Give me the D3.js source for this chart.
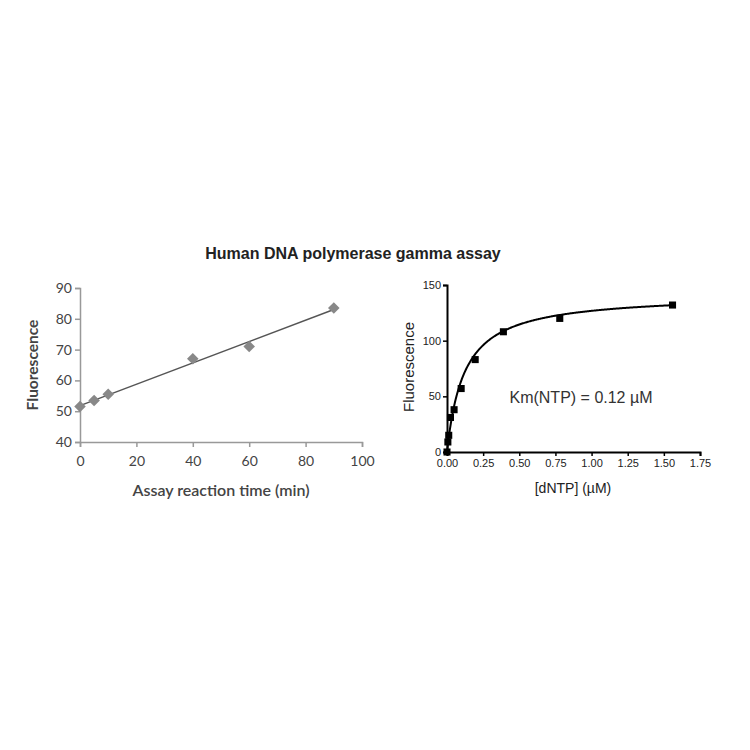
<!DOCTYPE html>
<html><head><meta charset="utf-8">
<script src="https://cdn.jsdelivr.net/npm/d3@7"></script>
<style>body{margin:0;background:#fff}</style>
</head><body>
<svg id="c" width="750" height="750"></svg>
<script>
// ---- data ----
const title = "Human DNA polymerase gamma assay";
const timeMin = [0, 5, 10, 40, 60, 90];
const fluorA = [51.5, 53.5, 55.5, 67, 71, 83.5];
const xTicksA = [0, 20, 40, 60, 80, 100];
const yTicksA = [40, 50, 60, 70, 80, 90];

const dntp = [0, 0.006, 0.012, 0.024, 0.049, 0.098, 0.195, 0.39, 0.78, 1.56];
const fluorB = [0, 9, 15, 31, 38, 57, 83, 108, 120, 132];
const vmax = 142;
const km = 0.12;
const xTicksB = [0, 0.25, 0.5, 0.75, 1.0, 1.25, 1.5, 1.75];
const yTicksB = [0, 50, 100, 150];
const annotation = "Km(NTP) = 0.12 \u00b5M";

const svg = d3.select("#c");
svg.append("text").attr("x", 353).attr("y", 259).attr("text-anchor", "middle")
  .attr("font-family", "Liberation Sans, Arial").attr("font-weight", "bold").attr("font-size", 16)
  .attr("fill", "#222").text(title);

// ---- left chart ----
const xA = d3.scaleLinear().domain([0, 100]).range([80, 362]);
const yA = d3.scaleLinear().domain([40, 90]).range([442, 288]);
const gA = svg.append("g");
const axA = gA.append("g").attr("transform", "translate(0,442)")
  .call(d3.axisBottom(xA).tickValues(xTicksA).tickSize(5).tickPadding(9));
const ayA = gA.append("g").attr("transform", "translate(80,0)")
  .call(d3.axisLeft(yA).tickValues(yTicksA).tickSize(5).tickPadding(3));
[axA, ayA].forEach(a => {
  a.select(".domain").attr("stroke", "#999").attr("stroke-width", 1.5);
  a.selectAll(".tick line").attr("stroke", "#999").attr("stroke-width", 1.5);
  a.selectAll("text").attr("font-family", "Lato, Open Sans").attr("font-size", 14).attr("fill", "#444");
});
// regression line
const mx = d3.mean(timeMin), my = d3.mean(fluorA);
const slope = d3.sum(timeMin.map((x, i) => (x - mx) * (fluorA[i] - my))) / d3.sum(timeMin.map(x => (x - mx) ** 2));
const icpt = my - slope * mx;
const xr = d3.extent(timeMin);
gA.append("line").attr("x1", xA(xr[0])).attr("y1", yA(icpt + slope * xr[0]))
  .attr("x2", xA(xr[1])).attr("y2", yA(icpt + slope * xr[1]))
  .attr("stroke", "#555").attr("stroke-width", 1.5);
gA.selectAll("path.pt").data(timeMin).join("path").attr("class", "pt")
  .attr("transform", (d, i) => `translate(${xA(d)},${yA(fluorA[i])})`)
  .attr("d", d3.symbol(d3.symbolDiamond2, 85)).attr("fill", "#888");
gA.append("text").attr("x", 221).attr("y", 496).attr("text-anchor", "middle")
  .attr("font-family", "Lato, Open Sans").attr("font-weight", "600").attr("font-size", 16)
  .attr("fill", "#444").text("Assay reaction time (min)");
gA.append("text").attr("transform", "translate(38,365) rotate(-90)").attr("text-anchor", "middle")
  .attr("font-family", "Lato, Open Sans").attr("font-weight", "bold").attr("font-size", 15.5)
  .attr("fill", "#444").text("Fluorescence");

// ---- right chart ----
const xB = d3.scaleLinear().domain([0, 1.75]).range([447, 700]);
const yB = d3.scaleLinear().domain([0, 150]).range([452, 285]);
const gB = svg.append("g");
const axB = gB.append("g").attr("transform", "translate(0,452)")
  .call(d3.axisBottom(xB).tickValues(xTicksB).tickFormat(d3.format(".2f")).tickSize(4).tickPadding(3));
const ayB = gB.append("g").attr("transform", "translate(447,0)")
  .call(d3.axisLeft(yB).tickValues(yTicksB).tickSize(4).tickPadding(2));
[axB, ayB].forEach(a => {
  a.select(".domain").attr("stroke", "#000").attr("stroke-width", 2);
  a.selectAll(".tick line").attr("stroke", "#000").attr("stroke-width", 1.5);
  a.selectAll("text").attr("font-family", "Liberation Sans, Arial").attr("font-size", 11).attr("fill", "#222");
});
const curveX = d3.range(0, 1.5601, 0.005);
gB.append("path").datum(curveX)
  .attr("d", d3.line().x(d => xB(d)).y(d => yB(vmax * d / (km + d))))
  .attr("fill", "none").attr("stroke", "#000").attr("stroke-width", 2);
gB.selectAll("path.pt").data(dntp).join("path").attr("class", "pt")
  .attr("transform", (d, i) => `translate(${xB(d)},${yB(fluorB[i])})`)
  .attr("d", d3.symbol(d3.symbolSquare, 50)).attr("fill", "#000");
gB.append("text").attr("x", 581).attr("y", 403).attr("text-anchor", "middle")
  .attr("font-family", "Liberation Sans, Arial").attr("font-size", 16)
  .attr("fill", "#333").text(annotation);
gB.append("text").attr("x", 573).attr("y", 493).attr("text-anchor", "middle")
  .attr("font-family", "Liberation Sans, Arial").attr("font-size", 14)
  .attr("fill", "#222").text("[dNTP] (\u00b5M)");
gB.append("text").attr("transform", "translate(414,367) rotate(-90)").attr("text-anchor", "middle")
  .attr("font-family", "Liberation Sans, Arial").attr("font-size", 15)
  .attr("fill", "#222").text("Fluorescence");
</script>
</body></html>
